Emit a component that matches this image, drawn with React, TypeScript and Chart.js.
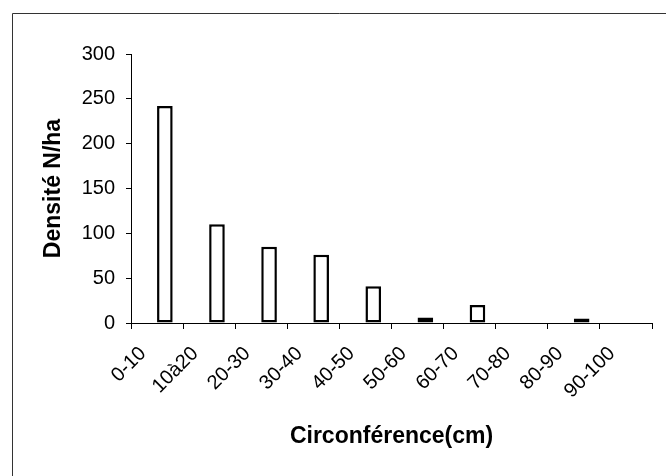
import React, { useEffect, useRef } from "react";
import { Chart, registerables } from "chart.js";

Chart.register(...registerables);

const categories = ["0-10", "10à20", "20-30", "30-40", "40-50", "50-60", "60-70", "70-80", "80-90", "90-100"];
const emptySeries: (number | null)[] = [null, null, null, null, null, null, null, null, null, null];
const densityValues = [242, 110, 85, 76, 41, 6, 20, 0, 5, 0];
const yTicks = [0, 50, 100, 150, 200, 250, 300];

const FONT = "'Liberation Sans', Arial, sans-serif";

const framePlugin = {
  id: "frame",
  afterDraw(chart: any) {
    const ctx = chart.ctx;
    ctx.save();
    ctx.strokeStyle = "#333";
    ctx.lineWidth = 1;
    ctx.beginPath();
    ctx.moveTo(12.5, 476);
    ctx.lineTo(12.5, 13.5);
    ctx.lineTo(666, 13.5);
    ctx.stroke();
    ctx.restore();
  },
};

export default function App() {
  const ref = useRef<HTMLCanvasElement | null>(null);
  useEffect(() => {
    if (!ref.current) return;
    const chart = new Chart(ref.current, {
      type: "bar",
      data: {
        labels: categories,
        datasets: [
          {
            label: "",
            data: emptySeries as any,
            backgroundColor: "#fff",
            borderColor: "#000",
            borderWidth: 2,
          },
          {
            label: "Densité N/ha",
            data: densityValues,
            backgroundColor: "#fff",
            borderColor: "#000",
            borderWidth: 2.5,
            borderSkipped: false,
          },
        ],
      },
      options: {
        animation: false,
        responsive: false,
        maintainAspectRatio: false,
        layout: { padding: { left: 0, top: 54, right: 14, bottom: 0 } },
        plugins: { legend: { display: false }, tooltip: { enabled: false } },
        datasets: { bar: { categoryPercentage: 0.6, barPercentage: 1 } },
        scales: {
          x: {
            offset: true,
            grid: { display: true, drawOnChartArea: false, offset: true, color: "#000", tickLength: 6, lineWidth: 1 },
            border: { display: true, color: "#000", width: 1 },
            ticks: {
              color: "#000",
              font: { family: FONT, size: 20 },
              minRotation: 45,
              maxRotation: 45,
              autoSkip: false,
              padding: 13,
              labelOffset: -14,
            },
            title: {
              display: true,
              text: "Circonférence(cm)",
              color: "#000",
              font: { family: FONT, size: 23, weight: "bold" },
              padding: { top: 0, bottom: 26 },
            },
            afterFit: (scale: any) => {
              scale.height = 153;
            },
          },
          y: {
            min: 0,
            max: 300,
            afterBuildTicks: (scale: any) => {
              scale.ticks = yTicks.map((v) => ({ value: v }));
            },
            grid: { display: true, drawOnChartArea: false, color: "#000", tickLength: 5, lineWidth: 1 },
            border: { display: true, color: "#000", width: 1 },
            ticks: {
              color: "#000",
              font: { family: FONT, size: 20 },
              padding: 11,
            },
            title: {
              display: true,
              text: "Densité N/ha",
              color: "#000",
              font: { family: FONT, size: 23, weight: "bold" },
              padding: { top: 40, bottom: 0 },
            },
            afterFit: (scale: any) => {
              scale.width = 131;
            },
          },
        },
      },
      plugins: [framePlugin],
    });
    return () => chart.destroy();
  }, []);
  return (
    <div style={{ position: "fixed", left: 0, top: 0, width: 666, height: 476, background: "#fff" }}>
      <canvas ref={ref} width={666} height={476} style={{ width: 666, height: 476, display: "block" }} />
    </div>
  );
}
